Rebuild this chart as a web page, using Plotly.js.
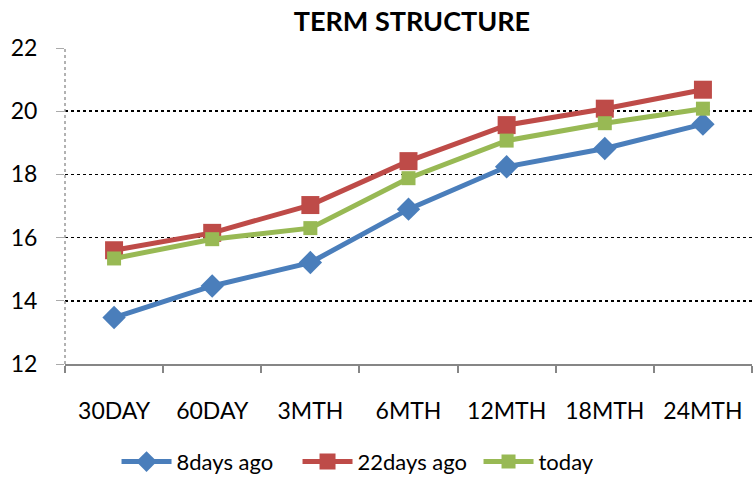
<!DOCTYPE html>
<html>
<head>
<meta charset="utf-8">
<script src="https://cdn.plot.ly/plotly-3.0.1.min.js"></script>
<style>html,body{margin:0;padding:0;background:#fff;}#chart{width:754px;height:480px;}</style>
</head>
<body>
<div id="chart"></div>
<script>
var categories = ["30DAY", "60DAY", "3MTH", "6MTH", "12MTH", "18MTH", "24MTH"];
var days8 = [13.47, 14.47, 15.21, 16.9, 18.24, 18.82, 19.59];
var days22 = [15.6, 16.15, 17.03, 18.42, 19.56, 20.08, 20.68];
var today = [15.34, 15.95, 16.3, 17.88, 19.07, 19.62, 20.08];
var yTicks = [12, 14, 16, 18, 20, 22];

var FONT = "Lato, 'Open Sans', sans-serif";

function series(name, y, color, symbol, size) {
  return {
    type: "scatter", mode: "lines+markers", name: name,
    x: categories, y: y,
    line: {color: color, width: 5},
    marker: {color: color, symbol: symbol, size: size}
  };
}

var data = [
  series("8days ago", days8, "#4A7EBB", "diamond", 18),
  series("22days ago", days22, "#BE4B48", "square", 18),
  series("today", today, "#98B954", "square", 14)
];

var layout = {
  width: 754, height: 480,
  margin: {l: 65, r: 2, t: 48, b: 116},
  paper_bgcolor: "#fff", plot_bgcolor: "#fff",
  font: {family: FONT, color: "#000", size: 23},
  title: {text: "<b>TERM STRUCTURE</b>", font: {family: FONT, size: 27, color: "#000"},
          x: 0.505, xref: "paper", y: 0.955, yref: "container", yanchor: "middle"},
  showlegend: true,
  legend: {orientation: "h", x: 0.075, xanchor: "left", yref: "container", y: 0.038, yanchor: "middle",
           font: {family: FONT, size: 22}, itemwidth: 50, entrywidth: 116, entrywidthmode: "pixels"},
  xaxis: {type: "category", range: [-0.5, 6.5], showgrid: false, zeroline: false,
          automargin: false,
          showline: true, linecolor: "#868686", linewidth: 2,
          ticks: "outside", ticklen: 7, tickcolor: "#868686", tickwidth: 2,
          tickson: "boundaries", ticklabelstandoff: 25,
          tickfont: {family: FONT, size: 23}},
  yaxis: {range: [12, 22], tickvals: yTicks, showgrid: true, gridcolor: "#000",
          griddash: "dot", gridwidth: 1.5, zeroline: false, automargin: false,
          showline: false, ticks: "outside", ticklen: 8, tickcolor: "#aaa",
          ticklabelstandoff: 14, tickfont: {family: FONT, size: 23}},
  shapes: [{type: "line", xref: "paper", yref: "paper", x0: 0, x1: 0, y0: 0, y1: 1,
            line: {color: "#999", width: 1.5, dash: "dot"}}]
};

Plotly.newPlot("chart", data, layout, {displayModeBar: false, staticPlot: true});
</script>
</body>
</html>
